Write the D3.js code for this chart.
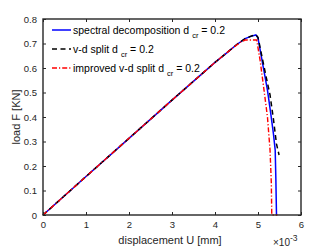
<!DOCTYPE html>
<html><head><meta charset="utf-8">
<script src="https://cdn.jsdelivr.net/npm/d3@7"></script>
<style>body{margin:0;background:#fff}svg{display:block}</style>
</head><body><svg id="c" width="332" height="249"></svg>
<script>
const xTicks=[0,1,2,3,4,5,6];
const xTickLabels=["0","1","2","3","4","5","6"];
const yTicks=[0,0.1,0.2,0.3,0.4,0.5,0.6,0.7,0.8];
const yTickLabels=["0","0.1","0.2","0.3","0.4","0.5","0.6","0.7","0.8"];
// displacement in units of 1e-3 mm, load in KN
const spectralU=[0,1,2,3,4,4.26,4.5,4.7,4.85,4.95,5.0,5.1,5.22,5.3,5.36,5.40,5.415,5.43];
const spectralF=[0,0.157,0.313,0.469,0.623,0.66,0.695,0.72,0.73,0.735,0.722,0.625,0.51,0.41,0.33,0.265,0.15,0];
const vdU=[0,1,2,3,4,4.26,4.5,4.7,4.85,4.95,5.0,5.1,5.2,5.28,5.36,5.43,5.49];
const vdF=[0,0.157,0.313,0.469,0.623,0.66,0.695,0.72,0.731,0.736,0.725,0.64,0.555,0.49,0.39,0.29,0.245];
const impU=[0,1,2,3,4,4.26,4.4,4.6,4.7,4.97,5.05,5.14,5.22,5.28,5.31,5.32,5.45];
const impF=[0,0.157,0.313,0.469,0.623,0.66,0.68,0.706,0.714,0.714,0.63,0.51,0.40,0.265,0.13,0,0];
const seriesNames=["spectral decomposition d","v-d split d","improved v-d split d"];

const L=43,R=301,T=19,B=215;
const svg=d3.select("#c");
const x=d3.scaleLinear().domain([0,6]).range([L,R]);
const y=d3.scaleLinear().domain([0,0.8]).range([B,T]);
const axCol="#262626";
const font="'Liberation Sans', Arial, Helvetica, sans-serif";

svg.append("rect").attr("x",L).attr("y",T).attr("width",R-L).attr("height",B-T).attr("fill","#fff");

const line=d3.line().x(d=>x(d[0])).y(d=>y(d[1]));
const zip=(a,b)=>a.map((v,i)=>[v,b[i]]);
const series=[
 {u:spectralU,f:spectralF,color:"#0000ff",dash:null,w:1.5},
 {u:vdU,f:vdF,color:"#000000",dash:"5,3.5",w:1.5},
 {u:impU,f:impF,color:"#ff0000",dash:"5,2,1.2,2",w:1.4}
];
const g=svg.append("g");
series.forEach(s=>{
  g.append("path").attr("d",line(zip(s.u,s.f))).attr("fill","none")
   .attr("stroke",s.color).attr("stroke-width",s.w).attr("stroke-dasharray",s.dash);
});

// axes
const xAxB=d3.axisBottom(x).tickValues(xTicks).tickFormat((d,i)=>xTickLabels[i]).tickSizeInner(-3).tickSizeOuter(0).tickPadding(6);
const xAxT=d3.axisTop(x).tickValues(xTicks).tickFormat("").tickSizeInner(-3).tickSizeOuter(0);
const yAxL=d3.axisLeft(y).tickValues(yTicks).tickFormat((d,i)=>yTickLabels[i]).tickSizeInner(-3).tickSizeOuter(0).tickPadding(6);
const yAxR=d3.axisRight(y).tickValues(yTicks).tickFormat("").tickSizeInner(-3).tickSizeOuter(0);
const styleAx=sel=>{sel.selectAll("path").remove();sel.selectAll("line").attr("stroke",axCol).attr("stroke-width",1);
  sel.selectAll("text").attr("fill",axCol).style("font-family",font).style("font-size","9.5px");};
svg.append("g").attr("transform",`translate(0,${B})`).call(xAxB).call(styleAx);
svg.append("g").attr("transform",`translate(0,${T})`).call(xAxT).call(styleAx);
svg.append("g").attr("transform",`translate(${L},0)`).call(yAxL).call(styleAx);
svg.append("g").attr("transform",`translate(${R},0)`).call(yAxR).call(styleAx);
svg.append("rect").attr("x",L).attr("y",T).attr("width",R-L).attr("height",B-T)
  .attr("fill","none").attr("stroke",axCol).attr("stroke-width",1.4);

// labels
svg.append("text").attr("x",(L+R)/2-2).attr("y",244).attr("text-anchor","middle")
  .attr("fill",axCol).style("font-family",font).style("font-size","11px").text("displacement U [mm]");
svg.append("text").attr("transform",`translate(19.5,${(T+B)/2}) rotate(-90)`).attr("text-anchor","middle")
  .attr("fill",axCol).style("font-family",font).style("font-size","11px").text("load F [KN]");
const ex=svg.append("text").attr("x",273).attr("y",246).attr("fill",axCol).style("font-family",font).style("font-size","10px");
ex.append("tspan").text("\u00d710");
ex.append("tspan").attr("dy",-5).style("font-size","8.5px").text("-3");

// legend
const rows=[30,49,68];
series.forEach((s,i)=>{
  svg.append("line").attr("x1",52).attr("x2",71).attr("y1",rows[i]).attr("y2",rows[i])
   .attr("stroke",s.color).attr("stroke-width",s.w).attr("stroke-dasharray",s.dash);
  const t=svg.append("text").attr("x",73).attr("y",rows[i]+3.5).attr("fill","#000")
   .style("font-family",font).style("font-size","10.5px");
  t.append("tspan").text(seriesNames[i]);
  t.append("tspan").attr("dx",3).attr("dy",4).style("font-size","7.5px").text("cr");
  t.append("tspan").attr("dy",-4).text(" = 0.2");
});
</script></body></html>
